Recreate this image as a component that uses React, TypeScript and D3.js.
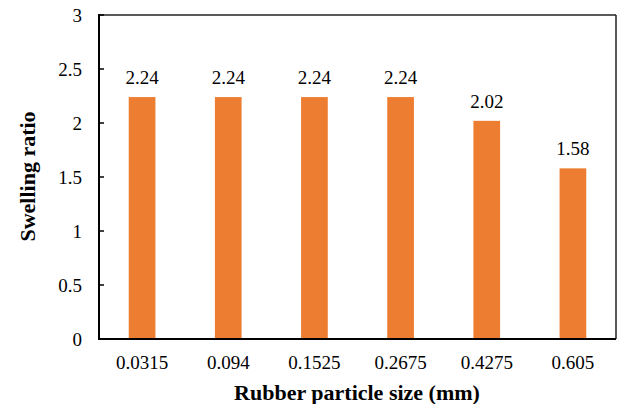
import React from "react";
import * as d3 from "d3";

const categories = ["0.0315", "0.094", "0.1525", "0.2675", "0.4275", "0.605"];
const values = [2.24, 2.24, 2.24, 2.24, 2.02, 1.58];
const yTicks = [0, 0.5, 1, 1.5, 2, 2.5, 3];
const xTitle = "Rubber particle size (mm)";
const yTitle = "Swelling ratio";

const W = 621;
const H = 404;
const M = { left: 99, right: 5, top: 15, bottom: 65 };
const FONT = "Liberation Serif";

export default function App() {
  const x = d3
    .scaleBand<string>()
    .domain(categories)
    .range([M.left, W - M.right])
    .paddingInner(0.69)
    .paddingOuter(0.345);
  const y = d3.scaleLinear().domain([0, 3]).range([H - M.bottom, M.top]);
  const x0 = M.left;
  const x1 = W - M.right;
  const y0 = y(0);
  const y1 = y(3);
  const ts = { fontFamily: FONT };

  return (
    <svg
      width={W}
      height={H}
      style={{ position: "absolute", left: 0, top: 0, background: "#fff", fontFamily: FONT }}
    >
      <rect x={0} y={0} width={W} height={H} fill="#fff" />
      {values.map((v, i) => (
        <rect
          key={categories[i]}
          x={x(categories[i])}
          y={y(v)}
          width={x.bandwidth()}
          height={y0 - y(v)}
          fill="#ED7D31"
        />
      ))}
      {values.map((v, i) => (
        <text
          key={"l" + i}
          x={(x(categories[i]) as number) + x.bandwidth() / 2}
          y={y(v) - 13}
          textAnchor="middle"
          fontSize={19}
          fill="#000"
          style={ts}
        >
          {v.toFixed(2)}
        </text>
      ))}
      {/* frame */}
      <line x1={x0} y1={y1} x2={x1} y2={y1} stroke="#222" strokeWidth={1.5} />
      <line x1={x1} y1={y1} x2={x1} y2={y0} stroke="#222" strokeWidth={1.5} />
      <line x1={x0} y1={y1 - 1} x2={x0} y2={y0 + 1} stroke="#000" strokeWidth={2} />
      <line x1={x0 - 1} y1={y0} x2={x1} y2={y0} stroke="#000" strokeWidth={2} />
      {yTicks.map((t) => (
        <g key={t}>
          <line x1={x0} x2={x0 + 5} y1={y(t)} y2={y(t)} stroke="#000" strokeWidth={1.5} />
          <text
            x={82}
            y={y(t)}
            dy="0.35em"
            textAnchor="end"
            fontSize={19}
            fill="#000"
            style={ts}
          >
            {t}
          </text>
        </g>
      ))}
      {categories.map((c) => (
        <text
          key={c}
          x={(x(c) as number) + x.bandwidth() / 2}
          y={369}
          textAnchor="middle"
          fontSize={19}
          fill="#000"
          style={ts}
        >
          {c}
        </text>
      ))}
      <text
        x={357}
        y={400}
        textAnchor="middle"
        fontSize={22}
        fontWeight="bold"
        fill="#000"
        style={ts}
      >
        {xTitle}
      </text>
      <text
        transform={`translate(35, 176.5) rotate(-90)`}
        textAnchor="middle"
        fontSize={22}
        fontWeight="bold"
        fill="#000"
        style={ts}
      >
        {yTitle}
      </text>
    </svg>
  );
}
